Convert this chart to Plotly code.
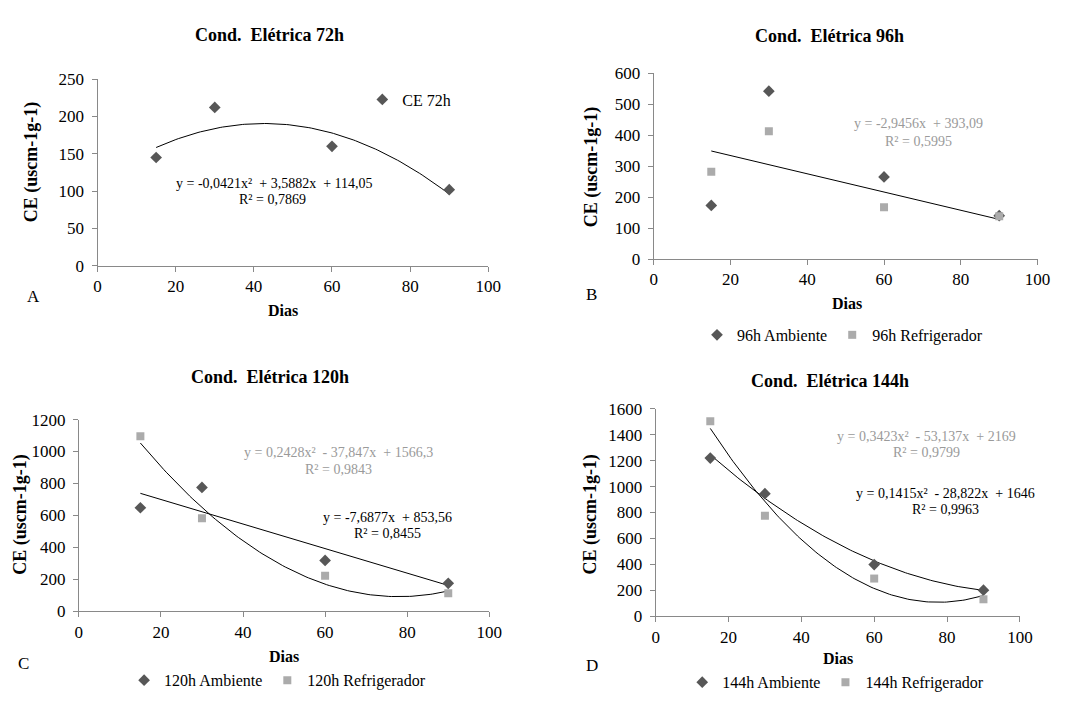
import numpy as np
import plotly.graph_objects as go

W, H = 1088, 702

# Sampling days
dias = [15, 30, 60, 90]

# Electrical conductivity (uS cm-1 g-1) per soaking time
ce_72h = [145, 212, 160, 102]
ce_96h_amb = [173, 542, 265, 140]
ce_96h_ref = [282, 413, 167, 138]
ce_120h_amb = [648, 775, 318, 175]
ce_120h_ref = [1095, 583, 222, 112]
ce_144h_amb = [1220, 945, 398, 200]
ce_144h_ref = [1505, 775, 290, 130]

# Trendline coefficients (highest power first)
fit_72h = [-0.0421, 3.5882, 114.05]
fit_96h_ref = [-2.9456, 393.09]
fit_120h_amb = [-7.6877, 853.56]
fit_120h_ref = [0.2428, -37.847, 1566.3]
fit_144h_amb = [0.1415, -28.822, 1646]
fit_144h_ref = [0.3423, -53.137, 2169]

titles = ["Cond.  Elétrica 72h", "Cond.  Elétrica 96h",
          "Cond.  Elétrica 120h", "Cond.  Elétrica 144h"]
y_ranges = [(0, 250, 50), (0, 600, 100), (0, 1200, 200), (0, 1600, 200)]

FONT = "Liberation Serif"
AXIS_GREY = "#898989"
DARK = "#575757"
LIGHT = "#ababab"
EQ_GREY = "#9a9a9a"


def px(x):
    return x / W


def py(y):
    return 1 - y / H


# plot boxes in pixels: (left, right, top, bottom)
boxes = [(95, 492, 72, 264), (660, 1050, 66, 257),
         (76, 493, 422, 619), (662, 1032, 411, 624)]

fig = go.Figure()

x_fit = np.linspace(15, 90, 120)


def axes_of(i):
    return (f"x{i + 1}" if i else "x"), (f"y{i + 1}" if i else "y")


def add_points(i, y, name, symbol, color, size, legend):
    xa, ya = axes_of(i)
    fig.add_trace(go.Scatter(
        x=dias, y=y, mode="markers", name=name,
        marker=dict(symbol=symbol, color=color, size=size, line=dict(width=0)),
        xaxis=xa, yaxis=ya, legend=legend, showlegend=True))


def add_fit(i, coefs):
    xa, ya = axes_of(i)
    fig.add_trace(go.Scatter(
        x=x_fit, y=np.polyval(coefs, x_fit), mode="lines",
        line=dict(color="black", width=1), hoverinfo="skip",
        xaxis=xa, yaxis=ya, showlegend=False))


# A: 72h
add_fit(0, fit_72h)
add_points(0, ce_72h, "CE 72h", "diamond", DARK, 9, "legend")
# B: 96h
add_fit(1, fit_96h_ref)
add_points(1, ce_96h_amb, "96h Ambiente", "diamond", DARK, 9, "legend2")
add_points(1, ce_96h_ref, "96h Refrigerador", "square", LIGHT, 8, "legend2")
# C: 120h
add_fit(2, fit_120h_amb)
add_fit(2, fit_120h_ref)
add_points(2, ce_120h_amb, "120h Ambiente", "diamond", DARK, 9, "legend3")
add_points(2, ce_120h_ref, "120h Refrigerador", "square", LIGHT, 8, "legend3")
# D: 144h
add_fit(3, fit_144h_amb)
add_fit(3, fit_144h_ref)
add_points(3, ce_144h_amb, "144h Ambiente", "diamond", DARK, 9, "legend4")
add_points(3, ce_144h_ref, "144h Refrigerador", "square", LIGHT, 8, "legend4")

layout = dict(
    width=W, height=H, margin=dict(l=0, r=0, t=0, b=0),
    paper_bgcolor="white", plot_bgcolor="white",
    font=dict(family=FONT, size=16, color="black"),
)

for i, (l, r, t, b) in enumerate(boxes):
    suffix = str(i + 1) if i else ""
    y0, y1, dy = y_ranges[i]
    common = dict(showline=True, linecolor=AXIS_GREY, linewidth=1,
                  ticks="outside", ticklen=5, tickcolor=AXIS_GREY,
                  showgrid=False, zeroline=False,
                  tickfont=dict(family=FONT, size=17, color="black"))
    layout["xaxis" + suffix] = dict(
        domain=[px(l), px(r)], range=[0, 100], dtick=20, tick0=0,
        anchor="y" + suffix, **common)
    layout["yaxis" + suffix] = dict(
        domain=[py(b), py(t)], range=[y0, y1], dtick=dy, tick0=0,
        anchor="x" + suffix, ticklabelstandoff=4, **common)

legend_common = dict(orientation="h", font=dict(family=FONT, size=16),
                     bgcolor="rgba(0,0,0,0)", itemwidth=30,
                     xanchor="left", yanchor="middle", tracegroupgap=0)
layout["legend"] = dict(x=px(364), y=py(93), **legend_common)
layout["legend2"] = dict(x=px(704), y=py(335), **legend_common)
layout["legend3"] = dict(x=px(122), y=py(690), **legend_common)
layout["legend4"] = dict(x=px(689), y=py(692), **legend_common)

annotations = []


def text(x, y, s, size=16, color="black", bold=False, angle=0, anchor="center"):
    annotations.append(dict(
        x=px(x), y=py(y), xref="paper", yref="paper", text=s,
        showarrow=False, textangle=angle, xanchor=anchor, yanchor="middle",
        font=dict(family=FONT, size=size, color=color,
                  weight="bold" if bold else "normal")))


# panel titles
text(270, 27, titles[0], size=18, bold=True)
text(839, 28, titles[1], size=18, bold=True)
text(270, 378, titles[2], size=18, bold=True)
text(839, 382, titles[3], size=18, bold=True)

# x axis titles
text(283, 310, "Dias", bold=True)
text(856, 303, "Dias", bold=True)
text(284, 665, "Dias", bold=True)
text(847, 668, "Dias", bold=True)

# y axis titles
ytitle = "CE (uscm-1g-1)"
text(28, 158, ytitle, size=18, bold=True, angle=-90)
text(597, 163, ytitle, size=18, bold=True, angle=-90)
text(17, 520, ytitle, size=18, bold=True, angle=-90)
text(596, 520, ytitle, size=18, bold=True, angle=-90)

# panel letters
text(30, 296, "A", size=17)
text(597, 293, "B", size=17)
text(20, 673, "C", size=17)
text(597, 675, "D", size=17)

# trendline equations
text(275, 179, "y = -0,0421x²  + 3,5882x  + 114,05", size=14)
text(273, 196, "R² = 0,7869", size=14)
text(929, 118, "y = -2,9456x  + 393,09", size=14, color=EQ_GREY)
text(929, 136, "R² = 0,5995", size=14, color=EQ_GREY)
text(340, 456, "y = 0,2428x²  - 37,847x  + 1566,3", size=14, color=EQ_GREY)
text(340, 473, "R² = 0,9843", size=14, color=EQ_GREY)
text(390, 523, "y = -7,6877x  + 853,56", size=14)
text(390, 539, "R² = 0,8455", size=14)
text(937, 439, "y = 0,3423x²  - 53,137x  + 2169", size=14, color=EQ_GREY)
text(937, 456, "R² = 0,9799", size=14, color=EQ_GREY)
text(956, 498, "y = 0,1415x²  - 28,822x  + 1646", size=14)
text(956, 514, "R² = 0,9963", size=14)

layout["annotations"] = annotations
fig.update_layout(**layout)

fig.write_html("out.html")
